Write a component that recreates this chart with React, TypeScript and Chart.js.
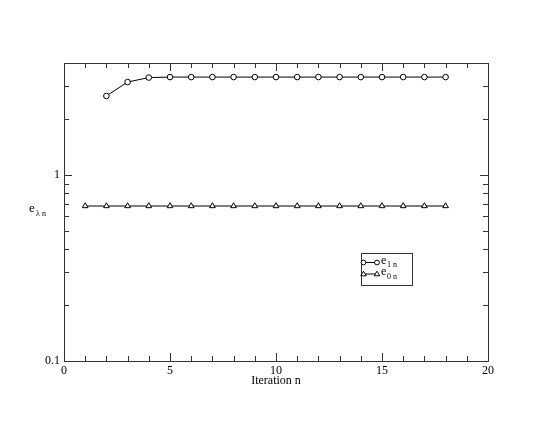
import React, { useEffect, useRef } from "react";
import { Chart, registerables } from "chart.js";
Chart.register(...registerables);

const iterations1 = [2, 3, 4, 5, 6, 7, 8, 9, 10, 11, 12, 13, 14, 15, 16, 17, 18];
const e1n = [2.66, 3.16, 3.34, 3.36, 3.36, 3.36, 3.36, 3.36, 3.36, 3.36, 3.36, 3.36, 3.36, 3.36, 3.36, 3.36, 3.36];
const iterations0 = [1, 2, 3, 4, 5, 6, 7, 8, 9, 10, 11, 12, 13, 14, 15, 16, 17, 18];
const e0n = [0.681, 0.681, 0.681, 0.681, 0.681, 0.681, 0.681, 0.681, 0.681, 0.681, 0.681, 0.681, 0.681, 0.681, 0.681, 0.681, 0.681, 0.681];
const seriesNames = ["e", "e"];
const seriesSubs = ["1 n", "0 n"];
const xMajorTicks = [0, 5, 10, 15, 20];
const yMajorTicks = [0.1, 1];
const xTitle = "Iteration n";
const yTitleMain = "e";
const yTitleSub = "λ n";

const FONT = "'Liberation Serif', 'DejaVu Serif', serif";

const framePlugin = {
  id: "frame",
  afterDraw(chart: any) {
    const { ctx, chartArea: a, scales } = chart;
    const xs = scales.x, ys = scales.y;
    ctx.save();
    ctx.strokeStyle = "#333";
    ctx.lineWidth = 1;
    ctx.strokeRect(Math.round(a.left) + 0.5, Math.round(a.top) + 0.5, Math.round(a.right - a.left), Math.round(a.bottom - a.top));
    ctx.beginPath();
    for (let v = 0; v <= 20; v++) {
      const px = Math.round(xs.getPixelForValue(v)) + 0.5;
      const len = v % 5 === 0 ? 8 : 5;
      ctx.moveTo(px, a.bottom); ctx.lineTo(px, a.bottom - len);
      ctx.moveTo(px, a.top); ctx.lineTo(px, a.top + len);
    }
    const yv: number[] = [];
    for (let d = 0.1; d < 10; d *= 10) {
      for (let m = 1; m <= 9; m++) {
        const v = +(d * m).toFixed(3);
        if (v >= 0.1 && v <= 4) yv.push(v);
      }
    }
    for (const v of yv) {
      const py = Math.round(ys.getPixelForValue(v)) + 0.5;
      const major = yMajorTicks.includes(v);
      const len = major ? 8 : 5;
      ctx.moveTo(a.left, py); ctx.lineTo(a.left + len, py);
      ctx.moveTo(a.right, py); ctx.lineTo(a.right - len, py);
    }
    ctx.stroke();

    // x title
    ctx.fillStyle = "#000";
    ctx.textBaseline = "alphabetic";
    ctx.textAlign = "center";
    ctx.font = `12px ${FONT}`;
    ctx.fillText(xTitle, (a.left + a.right) / 2, 384);

    // y title
    ctx.textAlign = "left";
    ctx.font = `13px ${FONT}`;
    ctx.fillText(yTitleMain, 29, 212);
    ctx.font = `8px ${FONT}`;
    ctx.fillText(yTitleSub, 36, 216);

    // legend
    const lx = 361.5, ly = 253.5, lw = 51, lh = 32;
    ctx.strokeStyle = "#333";
    ctx.strokeRect(lx, ly, lw, lh);
    const rows = [
      { y: ly + 9, style: "circle" },
      { y: ly + 20.5, style: "triangle" },
    ];
    rows.forEach((r, i) => {
      ctx.strokeStyle = "#000";
      ctx.beginPath();
      ctx.moveTo(lx + 2, r.y); ctx.lineTo(lx + 15.5, r.y);
      ctx.stroke();
      for (const mx of [lx + 2, lx + 15.5]) {
        ctx.beginPath();
        if (r.style === "circle") {
          ctx.arc(mx, r.y, 2.4, 0, Math.PI * 2);
        } else {
          ctx.moveTo(mx, r.y - 2.8); ctx.lineTo(mx + 2.8, r.y + 1.8); ctx.lineTo(mx - 2.8, r.y + 1.8); ctx.closePath();
        }
        ctx.fillStyle = "#fff"; ctx.fill(); ctx.stroke();
      }
      ctx.fillStyle = "#000";
      ctx.font = `12px ${FONT}`;
      ctx.fillText(seriesNames[i], lx + 19.5, r.y + 1);
      ctx.font = `8px ${FONT}`;
      ctx.fillText(seriesSubs[i], lx + 25.5, r.y + 4.5);
    });
    ctx.restore();
  },
};

export default function App() {
  const ref = useRef<HTMLCanvasElement>(null);
  useEffect(() => {
    document.body.style.margin = "0";
    const chart = new Chart(ref.current!, {
      type: "line",
      data: {
        datasets: [
          {
            label: seriesNames[0] + seriesSubs[0],
            data: iterations1.map((x, i) => ({ x, y: e1n[i] })),
            borderColor: "#000",
            borderWidth: 1,
            pointStyle: "circle",
            pointRadius: 2.8,
            pointBackgroundColor: "#fff",
            pointBorderColor: "#000",
            pointBorderWidth: 1,
          },
          {
            label: seriesNames[1] + seriesSubs[1],
            data: iterations0.map((x, i) => ({ x, y: e0n[i] })),
            borderColor: "#000",
            borderWidth: 1,
            pointStyle: "triangle",
            pointRadius: 3.3,
            pointBackgroundColor: "#fff",
            pointBorderColor: "#000",
            pointBorderWidth: 1,
          },
        ],
      },
      options: {
        animation: false,
        responsive: false,
        maintainAspectRatio: false,
        layout: { padding: { top: 63, right: 62, left: 0, bottom: 0 } },
        plugins: { legend: { display: false }, tooltip: { enabled: false } },
        scales: {
          x: {
            type: "linear",
            min: 0,
            max: 20,
            grid: { display: false, drawTicks: false },
            border: { display: false },
            afterBuildTicks: (s: any) => { s.ticks = xMajorTicks.map((v) => ({ value: v })); },
            afterFit: (s: any) => { s.height = 64; },
            ticks: { color: "#000", font: { family: FONT, size: 12 }, padding: 3, maxRotation: 0 },
          },
          y: {
            type: "logarithmic",
            min: 0.1,
            max: 4,
            grid: { display: false, drawTicks: false },
            border: { display: false },
            afterBuildTicks: (s: any) => { s.ticks = yMajorTicks.map((v) => ({ value: v })); },
            afterFit: (s: any) => { s.width = 64; },
            ticks: {
              color: "#000",
              font: { family: FONT, size: 12 },
              padding: 4,
              callback: (v: any) => String(v),
            },
          },
        },
      },
      plugins: [framePlugin],
    });
    return () => chart.destroy();
  }, []);
  return (
    <div style={{ width: 550, height: 425 }}>
      <canvas ref={ref} width={550} height={425} style={{ display: "block" }} />
    </div>
  );
}
